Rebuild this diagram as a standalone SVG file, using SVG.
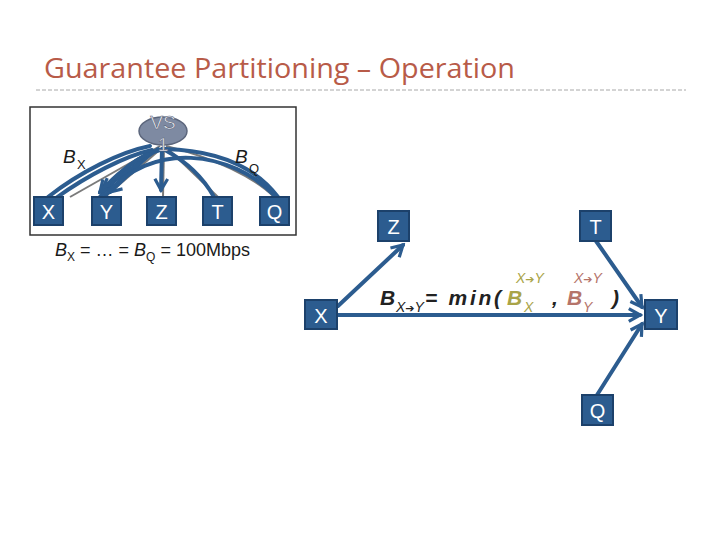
<svg xmlns="http://www.w3.org/2000/svg" width="720" height="540" viewBox="0 0 720 540">
<defs>
<style>
.node rect{fill:#2c5c8f;stroke:#1c416b;stroke-width:2}
.node text{fill:#fff;font-family:"Liberation Sans",Arial,sans-serif;font-size:20px;text-anchor:middle}
.lbl{font-family:"Liberation Sans",Arial,sans-serif;fill:#1a1a1a}
.e{fill:none;stroke:#2c5c8f;stroke-width:4;stroke-linecap:round}
.g{fill:none;stroke:#7a7a7a;stroke-width:2}
.ar{font-family:"DejaVu Sans",sans-serif;font-style:normal}
</style>
<marker id="ah" viewBox="0 0 10 10" refX="8" refY="5" markerWidth="4" markerHeight="4" orient="auto" markerUnits="strokeWidth">
<path d="M1,1 L8,5 L1,9" fill="none" stroke="#2c5c8f" stroke-width="2"/>
</marker>
</defs>
<rect width="720" height="540" fill="#fff"/>
<text x="44" y="78" font-family="'Open Sans','Noto Sans',sans-serif" font-size="27" fill="#b85b48" textLength="471" lengthAdjust="spacingAndGlyphs">Guarantee Partitioning – Operation</text>
<line x1="36" y1="90" x2="686" y2="90" stroke="#a8a8a8" stroke-width="1" stroke-dasharray="4,2"/>
<rect x="30" y="107" width="266" height="128" fill="#fff" stroke="#333" stroke-width="1.5"/>
<g id="connectors">
<path class="g" d="M163,147 L105,197"/>
<path class="g" d="M164,147 L163,197"/>
<path class="g" d="M166,147 L218,197"/>
<path class="g" d="M166,146 C215,158 255,178 274,197"/>
<path class="g" d="M160,146 L70,197"/>
<path class="e" d="M48,197 C80,172 120,152 150,146"/>
<path class="e" d="M56,198 C88,175 125,156 152,150"/>
<path class="e" d="M100,197 C120,170 140,155 160,150"/>
<path class="e" d="M158,149 L102,190" marker-end="url(#ah)"/>
<path class="e" d="M152,152 L110,192" marker-end="url(#ah)"/>
<path class="e" d="M148,154 Q125,165 100,192" marker-end="url(#ah)"/>
<path class="e" d="M162,149 L161,190" marker-end="url(#ah)"/>
<path class="e" d="M165,150 Q198,168 214,197"/>
<path class="e" d="M105,196 C150,140 232,150 276,197"/>
<path class="e" d="M165,149 C205,150 250,160 278,197"/>
<path class="e" d="M338,306 L403,245" marker-end="url(#ah)"/>
<path class="e" d="M338,315 L640,315" marker-end="url(#ah)"/>
<path class="e" d="M596,241 L642,307" marker-end="url(#ah)"/>
<path class="e" d="M597,395 L642,324" marker-end="url(#ah)"/>
</g>
<g id="vs1">
<ellipse cx="163" cy="131" rx="24" ry="14" fill="#7e8aa2" stroke="#5c667c" stroke-width="1.5"/>
<text x="163" y="129" font-family="'Liberation Sans',Arial,sans-serif" font-size="19" fill="#eef0f5" stroke="#5c667c" stroke-width="0.6" text-anchor="middle">VS</text>
<text x="163" y="151" font-family="'Liberation Sans',Arial,sans-serif" font-size="19" fill="#eef0f5" stroke="#5c667c" stroke-width="0.6" text-anchor="middle">1</text>
</g>
<g id="nX1" class="node"><rect x="34" y="197" width="29" height="28"/><text x="48.5" y="219">X</text></g>
<g id="nY1" class="node"><rect x="92" y="197" width="29" height="28"/><text x="106.5" y="219">Y</text></g>
<g id="nZ1" class="node"><rect x="147" y="197" width="29" height="28"/><text x="161.5" y="219">Z</text></g>
<g id="nT1" class="node"><rect x="203" y="197" width="29" height="28"/><text x="217.5" y="219">T</text></g>
<g id="nQ1" class="node"><rect x="260" y="197" width="29" height="28"/><text x="274.5" y="219">Q</text></g>
<text class="lbl" x="63" y="163" font-size="19" font-style="italic">B</text>
<text class="lbl" x="77" y="169" font-size="13">X</text>
<text class="lbl" x="235" y="163" font-size="19" font-style="italic">B</text>
<text class="lbl" x="249" y="173" font-size="13">Q</text>
<text class="lbl" x="55" y="256" font-size="18"><tspan font-style="italic">B</tspan><tspan font-size="12" dy="5">X</tspan><tspan dy="-5"> = … = </tspan><tspan font-style="italic">B</tspan><tspan font-size="12" dy="5">Q</tspan><tspan dy="-5"> = 100Mbps</tspan></text>
<g id="nZ2" class="node"><rect x="378" y="211" width="31" height="30"/><text x="393.5" y="234">Z</text></g>
<g id="nT2" class="node"><rect x="580" y="211" width="31" height="30"/><text x="595.5" y="234">T</text></g>
<g id="nX2" class="node"><rect x="305" y="300" width="32" height="29"/><text x="321" y="323">X</text></g>
<g id="nY2" class="node"><rect x="645" y="300" width="32" height="29"/><text x="661" y="323">Y</text></g>
<g id="nQ2" class="node"><rect x="582" y="395" width="31" height="30"/><text x="597.5" y="418">Q</text></g>
<g id="formula" font-family="'Liberation Sans',Arial,sans-serif" font-style="italic" font-weight="bold">
<text x="380" y="305" font-size="21" fill="#222">B</text>
<text x="396" y="312" font-size="14" font-weight="normal" fill="#222">X<tspan class="ar" font-size="11">➔</tspan>Y</text>
<text x="425" y="305" font-size="21" fill="#222" textLength="76" lengthAdjust="spacing">= min(</text>
<text x="507" y="305" font-size="21" fill="#a9a447">B</text>
<text x="516" y="283" font-size="14" font-weight="normal" fill="#a9a447">X<tspan class="ar" font-size="11">➔</tspan>Y</text>
<text x="524" y="312" font-size="14" font-weight="normal" fill="#a9a447">X</text>
<text x="552" y="305" font-size="21" fill="#222">,</text>
<text x="567" y="305" font-size="21" fill="#b5746a">B</text>
<text x="574" y="283" font-size="14" font-weight="normal" fill="#b5746a">X<tspan class="ar" font-size="11">➔</tspan>Y</text>
<text x="583" y="312" font-size="14" font-weight="normal" fill="#b5746a">Y</text>
<text x="612" y="305" font-size="21" fill="#222">)</text>
</g>
</svg>
